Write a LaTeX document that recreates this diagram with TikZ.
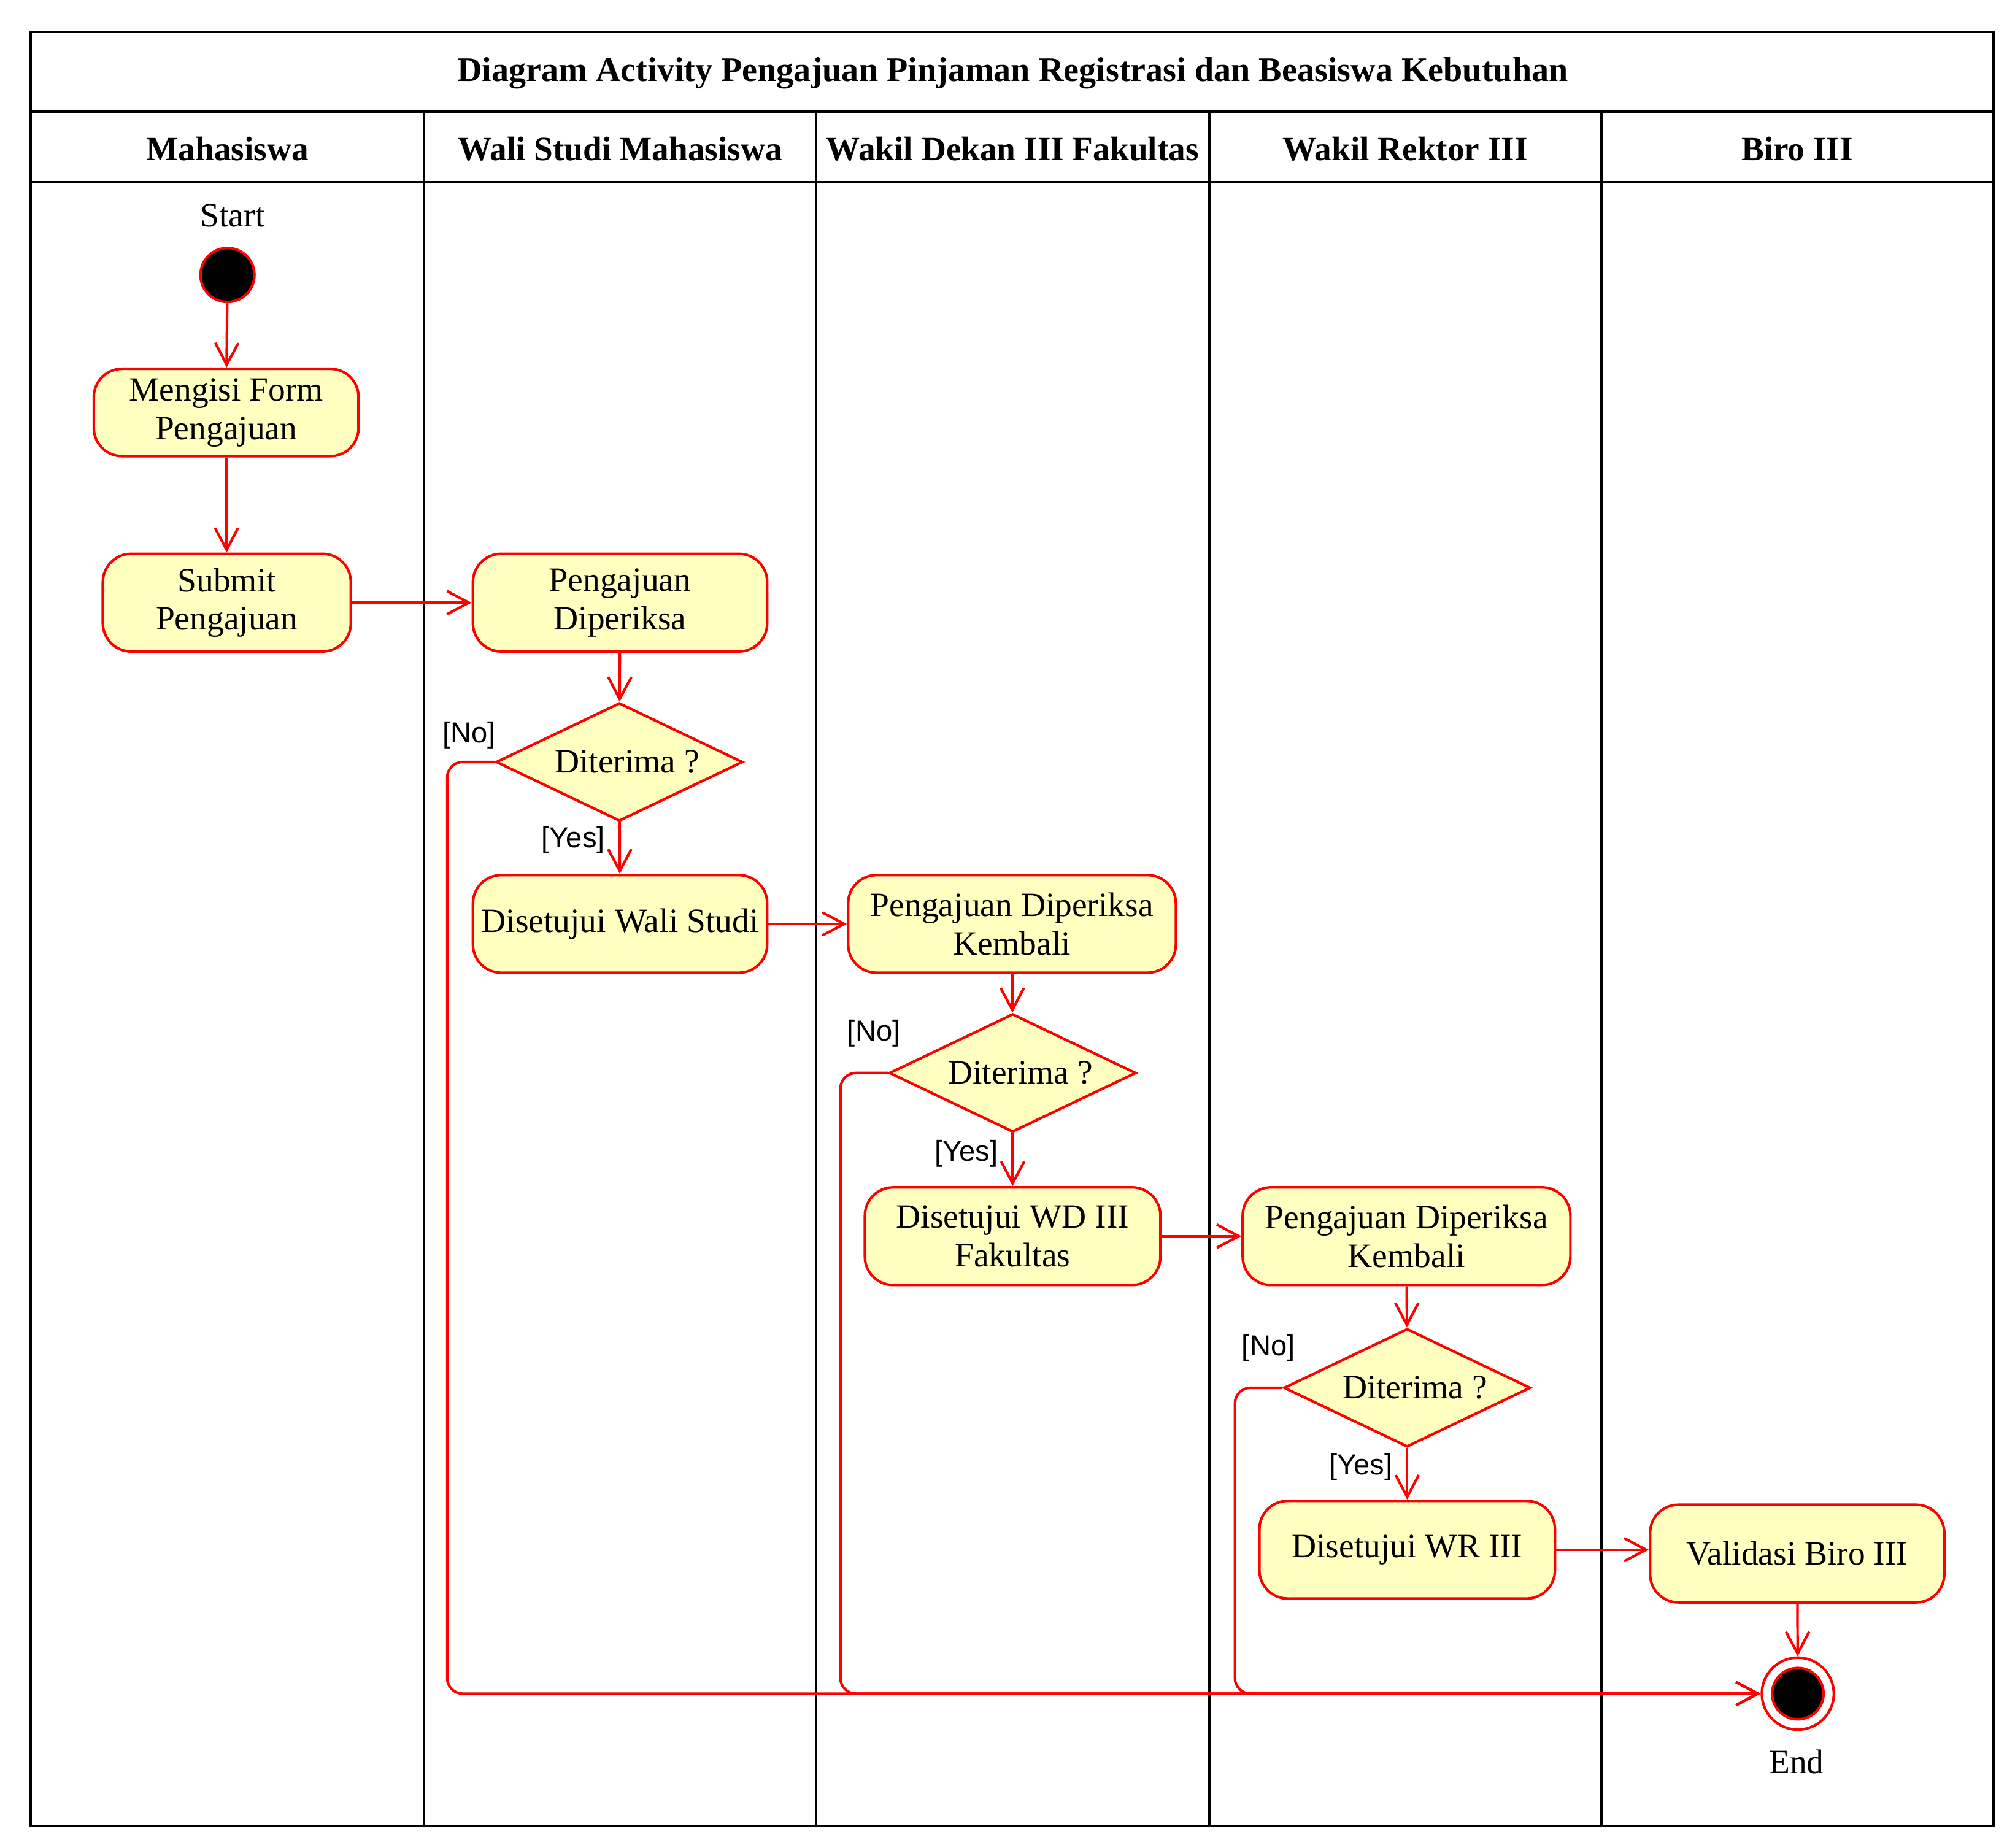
\documentclass[tikz,border=0pt]{standalone}
\usepackage{fontspec}
\setmainfont{Liberation Serif}
\newfontfamily\guardfont{Liberation Sans}
\usetikzlibrary{arrows.meta,shapes.geometric}
\definecolor{actfill}{RGB}{255,255,192}

\begin{document}
\begin{tikzpicture}[
  x=0.5pt, y=-0.5pt,
  every node/.style={font=\fontsize{13.25}{15}\selectfont},
  lane/.style={draw=black, line width=1pt},
  header/.style={font=\fontsize{13.2}{15}\selectfont\bfseries},
  action/.style={draw=red, fill=actfill, line width=1pt, rounded corners=11pt,
    align=center, inner sep=0pt, minimum height=38pt},
  decision/.style={diamond, aspect=2.1, draw=red, fill=actfill, line width=1pt, inner sep=0pt,
    minimum width=96pt, minimum height=46pt},
  startdot/.style={circle, draw=red, fill=black, line width=1pt, minimum size=21pt, inner sep=0pt},
  endring/.style={circle, draw=red, fill=white, line width=1pt, minimum size=28pt, inner sep=0pt},
  guard/.style={font=\fontsize{11.25}{13}\selectfont\guardfont},
  flow/.style={draw=red, line width=1pt, -{Straight Barb[length=8.5pt,width=9pt]}}
]
\useasboundingbox (0,0) rectangle (1568,1438);
\draw[lane] (24,25) rectangle (1551,1421);
\draw[lane] (24,87) -- (1551,87);
\draw[lane] (24,142) -- (1551,142);
\foreach \x in {330,635,941,1246}
  \draw[lane] (\x,87) -- (\x,1421);
\node[header, font=\fontsize{13.4}{15}\selectfont\bfseries] (title) at (788,57) {Diagram Activity Pengajuan Pinjaman Registrasi dan Beasiswa Kebutuhan};
\foreach \x/\name in {177/Mahasiswa, 482.5/Wali Studi Mahasiswa, 788/Wakil Dekan III Fakultas,
    1093.5/Wakil Rektor III, 1398.5/Biro III}
  \node[header] at (\x,116) {\name};

\node (startlabel) at (181,168) {Start};
\node[startdot] (start) at (177,214) {};
\node[action, minimum width=103pt, minimum height=34pt] (mengisi) at (176,321) {Mengisi Form\\Pengajuan};
\node[action, minimum width=96.5pt] (submit) at (176.5,469) {Submit\\Pengajuan};
\node[action, minimum width=114.5pt] (periksa) at (482.5,469) {Pengajuan\\Diperiksa};
\node[decision] (cek1) at (482,593) {\hspace{6pt}Diterima ?};
\node[action, minimum width=114.5pt] (setujuws) at (482.5,719) {Disetujui Wali Studi};
\node[action, minimum width=127.5pt] (kembali1) at (787.5,719) {Pengajuan Diperiksa\\Kembali};
\node[decision] (cek2) at (788,835) {\hspace{6pt}Diterima ?};
\node[action, minimum width=115pt] (setujuwd) at (788,962) {Disetujui WD III\\Fakultas};
\node[action, minimum width=127.5pt] (kembali2) at (1094.5,962) {Pengajuan Diperiksa\\Kembali};
\node[decision] (cek3) at (1095,1080) {\hspace{6pt}Diterima ?};
\node[action, minimum width=115pt] (setujuwr) at (1095,1206) {Disetujui WR III};
\node[action, minimum width=114.5pt] (validasi) at (1398.5,1209) {Validasi Biro III};
\node[endring] (finish) at (1399,1318) {};
\node[startdot, minimum size=20pt] (finishdot) at (finish) {};
\node (endlabel) at (1398,1371) {End};

\node[guard] at (365,572) {[No]};
\node[guard] at (446,654) {[Yes]};
\node[guard] at (680,804) {[No]};
\node[guard] at (752,898) {[Yes]};
\node[guard] at (987,1049) {[No]};
\node[guard] at (1059,1142) {[Yes]};

\draw[flow] (start) -- (mengisi);
\draw[flow] (mengisi) -- (submit);
\draw[flow] (submit) -- (periksa);
\draw[flow] (periksa) -- (cek1);
\draw[flow] (cek1) -- (setujuws);
\draw[flow] (setujuws) -- (kembali1);
\draw[flow] (kembali1) -- (cek2);
\draw[flow] (cek2) -- (setujuwd);
\draw[flow] (setujuwd) -- (kembali2);
\draw[flow] (kembali2) -- (cek3);
\draw[flow] (cek3) -- (setujuwr);
\draw[flow] (setujuwr.east) -- (setujuwr.east -| validasi.west);
\draw[flow] (validasi) -- (finish);
\draw[flow, rounded corners=6pt] (cek1.west) -- ++(-37,0) |- (finish.west);
\draw[flow, rounded corners=6pt] (cek2.west) -- ++(-37,0) |- (finish.west);
\draw[flow, rounded corners=6pt] (cek3.west) -- ++(-37,0) |- (finish.west);
\end{tikzpicture}
\end{document}
